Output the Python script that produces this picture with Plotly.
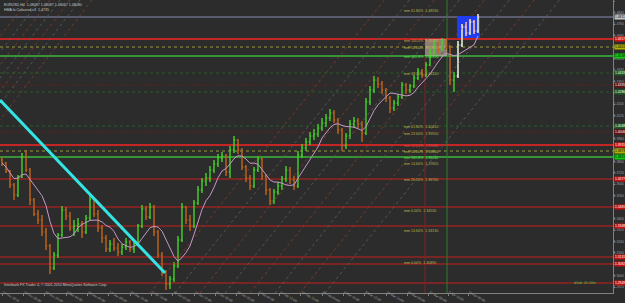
import plotly.graph_objects as go
import pandas as pd

# ---------------- data ----------------
bar_index = list(range(120))

open_ = [1.3810, 1.3789, 1.3733, 1.3635, 1.3565, 1.3691, 1.3831, 1.3740, 1.3530, 1.3432,
         1.3390, 1.3306, 1.3208, 1.3054, 1.3145, 1.3285, 1.3460, 1.3418, 1.3334, 1.3348,
         1.3362, 1.3306, 1.3404, 1.3537, 1.3432, 1.3334, 1.3264, 1.3187, 1.3222, 1.3194,
         1.3166, 1.3201, 1.3236, 1.3187, 1.3222, 1.3348, 1.3467, 1.3411, 1.3481, 1.3306,
         1.3145, 1.3026, 1.2942, 1.2977, 1.3068, 1.3250, 1.3481, 1.3390, 1.3348, 1.3509,
         1.3600, 1.3663, 1.3684, 1.3740, 1.3782, 1.3824, 1.3838, 1.3726, 1.3880, 1.3950,
         1.3880, 1.3761, 1.3684, 1.3628, 1.3740, 1.3817, 1.3698, 1.3600, 1.3523, 1.3586,
         1.3628, 1.3677, 1.3740, 1.3670, 1.3628, 1.3845, 1.3894, 1.3936, 1.3978, 1.3992,
         1.4034, 1.4069, 1.4104, 1.4139, 1.4090, 1.4020, 1.3908, 1.3978, 1.4062, 1.4083,
         1.4062, 1.3999, 1.4216, 1.4300, 1.4370, 1.4342, 1.4300, 1.4244, 1.4174, 1.4209,
         1.4251, 1.4335, 1.4300, 1.4328, 1.4384, 1.4433, 1.4405, 1.4475, 1.4559, 1.4622,
         1.4587, 1.4636, 1.4601, 1.4370, 1.4398, 1.4615, 1.4741, 1.4699, 1.4776, 1.4713]

high = [1.3831, 1.3796, 1.3740, 1.3649, 1.3705, 1.3859, 1.3880, 1.3754, 1.3544, 1.3460,
        1.3425, 1.3334, 1.3222, 1.3166, 1.3299, 1.3488, 1.3481, 1.3446, 1.3390, 1.3404,
        1.3383, 1.3425, 1.3558, 1.3544, 1.3460, 1.3355, 1.3285, 1.3250, 1.3264, 1.3229,
        1.3222, 1.3264, 1.3250, 1.3236, 1.3362, 1.3495, 1.3488, 1.3509, 1.3495, 1.3320,
        1.3166, 1.3040, 1.2998, 1.3096, 1.3278, 1.3509, 1.3488, 1.3425, 1.3530, 1.3628,
        1.3684, 1.3719, 1.3768, 1.3810, 1.3852, 1.3866, 1.3852, 1.3908, 1.3978, 1.3957,
        1.3894, 1.3775, 1.3705, 1.3761, 1.3838, 1.3824, 1.3712, 1.3614, 1.3607, 1.3656,
        1.3698, 1.3768, 1.3761, 1.3698, 1.3873, 1.3922, 1.3964, 1.4006, 1.4027, 1.4062,
        1.4104, 1.4132, 1.4167, 1.4160, 1.4104, 1.4034, 1.3999, 1.4090, 1.4111, 1.4104,
        1.4083, 1.4244, 1.4328, 1.4398, 1.4391, 1.4363, 1.4314, 1.4258, 1.4230, 1.4272,
        1.4356, 1.4349, 1.4342, 1.4405, 1.4454, 1.4447, 1.4496, 1.4587, 1.4650, 1.4643,
        1.4664, 1.4657, 1.4615, 1.4426, 1.4643, 1.4762, 1.4776, 1.4797, 1.4790, 1.4832]

low = [1.3768, 1.3719, 1.3614, 1.3530, 1.3551, 1.3684, 1.3726, 1.3495, 1.3418, 1.3362,
       1.3278, 1.3180, 1.3012, 1.3040, 1.3124, 1.3271, 1.3390, 1.3313, 1.3278, 1.3306,
       1.3264, 1.3292, 1.3390, 1.3411, 1.3306, 1.3229, 1.3166, 1.3166, 1.3173, 1.3138,
       1.3145, 1.3180, 1.3166, 1.3159, 1.3208, 1.3334, 1.3390, 1.3397, 1.3278, 1.3124,
       1.2998, 1.2900, 1.2907, 1.2956, 1.3054, 1.3236, 1.3362, 1.3313, 1.3334, 1.3495,
       1.3579, 1.3628, 1.3656, 1.3719, 1.3761, 1.3796, 1.3698, 1.3684, 1.3859, 1.3852,
       1.3740, 1.3656, 1.3600, 1.3614, 1.3726, 1.3670, 1.3565, 1.3495, 1.3502, 1.3565,
       1.3600, 1.3656, 1.3642, 1.3600, 1.3614, 1.3824, 1.3873, 1.3915, 1.3950, 1.3971,
       1.4013, 1.4041, 1.4083, 1.4069, 1.3992, 1.3873, 1.3887, 1.3957, 1.4034, 1.4034,
       1.3936, 1.3985, 1.4195, 1.4279, 1.4314, 1.4272, 1.4216, 1.4139, 1.4153, 1.4188,
       1.4237, 1.4272, 1.4279, 1.4314, 1.4370, 1.4384, 1.4391, 1.4468, 1.4545, 1.4559,
       1.4573, 1.4580, 1.4335, 1.4286, 1.4384, 1.4601, 1.4678, 1.4685, 1.4692, 1.4699]

close = [1.3789, 1.3733, 1.3635, 1.3565, 1.3691, 1.3831, 1.3740, 1.3530, 1.3432, 1.3390,
         1.3306, 1.3208, 1.3054, 1.3145, 1.3285, 1.3460, 1.3418, 1.3334, 1.3348, 1.3362,
         1.3306, 1.3404, 1.3537, 1.3432, 1.3334, 1.3264, 1.3187, 1.3222, 1.3194, 1.3166,
         1.3201, 1.3236, 1.3187, 1.3222, 1.3348, 1.3467, 1.3411, 1.3481, 1.3306, 1.3145,
         1.3026, 1.2942, 1.2977, 1.3068, 1.3250, 1.3481, 1.3390, 1.3348, 1.3509, 1.3600,
         1.3663, 1.3684, 1.3740, 1.3782, 1.3824, 1.3838, 1.3726, 1.3880, 1.3950, 1.3880,
         1.3761, 1.3684, 1.3628, 1.3740, 1.3817, 1.3698, 1.3600, 1.3523, 1.3586, 1.3628,
         1.3677, 1.3740, 1.3670, 1.3628, 1.3845, 1.3894, 1.3936, 1.3978, 1.3992, 1.4034,
         1.4069, 1.4104, 1.4139, 1.4090, 1.4020, 1.3908, 1.3978, 1.4062, 1.4083, 1.4062,
         1.3999, 1.4216, 1.4300, 1.4370, 1.4342, 1.4300, 1.4244, 1.4174, 1.4209, 1.4251,
         1.4335, 1.4300, 1.4328, 1.4384, 1.4433, 1.4405, 1.4475, 1.4559, 1.4622, 1.4587,
         1.4636, 1.4601, 1.4370, 1.4398, 1.4615, 1.4741, 1.4699, 1.4776, 1.4713, 1.4811]

x_tick_bars = [0, 5.3, 10.7, 16, 21.3, 26.7, 32, 37.3, 42.7, 48, 53.3, 58.7, 64,
               69.3, 74.7, 80, 85.3, 90.7, 96, 101.3, 106.7, 111.5, 116.5]
x_tick_labels = ["12 Nov 2010", "19 Nov 20:00", "26 Nov 20:00", "3 Dec 04:00", "10 Dec 04:00",
                 "17 Dec 08:00", "24 Dec 16:00", "3 Jan 16:00", "10 Jan 04:00", "14 Jan 12:00",
                 "21 Jan 20:00", "28 Jan 20:00", "4 Feb 04:00", "11 Feb 12:00", "18 Feb 16:00",
                 "25 Feb 04:00", "2 Mar 16:00", "9 Mar 12:00", "16 Mar 16:00", "24 Mar 00:00",
                 "31 Mar 08:00", "7 Apr 16:00", "15 Apr 00:00"]

# horizontal levels (price, kind)
level_prices = [1.4811, 1.4657, 1.4601, 1.4538, 1.4419, 1.4335, 1.4286, 1.4048, 1.4006,
                1.3915, 1.3873, 1.3831, 1.3677, 1.3481, 1.3348, 1.3131, 1.3082, 1.2949]
level_kinds = ["price", "red2", "yellow", "green", "dgreen", "dred", "dgreen", "dgreen", "dred",
               "red2", "yellow", "green", "red", "red", "red", "red", "red", "red"]

# level labels drawn on the chart
fib_bar = 100
fib_prices = [1.4853, 1.4643, 1.4594, 1.4531, 1.4412, 1.4041, 1.3992, 1.3908, 1.3866,
              1.3824, 1.3782, 1.3670, 1.3453, 1.3313, 1.3089]
fib_texts = ["mm 61.80%  1.48530", "mm 100.0%  1.46430", "mm 50.00%  1.45940", "mm 161.8%  1.45310",
             "mm 38.20%  1.44120", "mm 61.80%  1.40410", "mm 23.60%  1.39920", "mm 127.0%  1.39080",
             "mm 50.00%  1.38660", "mm 161.8%  1.38240", "mm 14.60%  1.37820", "mm 26.20%  1.36700",
             "mm 0.00%  1.34530", "mm 14.60%  1.33130", "mm 0.00%  1.30890"]
fib_kinds = ["yellow", "orange", "yellow", "green", "yellow", "yellow", "yellow", "red",
             "yellow", "green", "yellow", "yellow", "yellow", "yellow", "yellow"]

# trendline, fan lines, rectangles, vertical lines
trend_x = [-0.5, 40.75]
trend_y = [1.4230, 1.3019]
fan_upper_tops = [6.5, 9.5, 12, 14.5, 17, 19.5, 22.5]
fan_upper_run = 56.3
fan_lower_starts = [37, 43.25, 49.5, 55.75, 62, 68.25, 74.5, 80.75]
fan_lower_run = 58.6
price_top, price_bottom = 1.4930, 1.2879
rect_beige = (105.75, 111.25, 1.4538, 1.4657)
rect_blue = (113.75, 119.5, 1.4664, 1.4818)
vline_red = (105.75, 1.4538)
vline_green = 111.25

# ---------------- styles ----------------
line_style = {
    "price": ("#8a8ab4", 1, "solid", "#c8c8c8", "#000000"),
    "red2": ("#c42626", 2, "solid", "#d81010", "#ffffff"),
    "red": ("#962222", 1.3, "solid", "#c81010", "#ffffff"),
    "yellow": ("#9a9a3c", 1, "dot", "#b0b000", "#000000"),
    "green": ("#3cb43c", 1.5, "solid", "#10d010", "#000000"),
    "dgreen": ("#2a5a2a", 1, "dot", "#1e5a1e", "#ffffff"),
    "dred": ("#5a2222", 1, "dot", "#6a1010", "#ffffff"),
}
fib_colors = {"yellow": "#b8b84a", "orange": "#d89a50", "green": "#50e050", "red": "#e84848"}
TINY = 3.6
AXF = 3.3

fig = go.Figure()

def fan_trace(xs, ys, color):
    return go.Scatter(x=xs, y=ys, mode="lines", hoverinfo="skip",
                      line=dict(color=color, width=0.8, dash="dot"))

ox, oy, gx, gy = [], [], [], []
for k, xt in enumerate(fan_upper_tops):
    tx, ty = (ox, oy) if k % 2 == 0 else (gx, gy)
    tx += [xt, xt - fan_upper_run, None]
    ty += [price_top, price_bottom, None]
for k, xb in enumerate(fan_lower_starts):
    tx, ty = (ox, oy) if k % 2 == 0 else (gx, gy)
    tx += [xb, xb + fan_lower_run, None]
    ty += [price_bottom, price_top, None]
fig.add_trace(fan_trace(ox, oy, "#84402a"))
fig.add_trace(fan_trace(gx, gy, "#5e5e5e"))

for p, kd in zip(level_prices, level_kinds):
    c, w, d, _, _ = line_style[kd]
    fig.add_shape(type="line", xref="paper", x0=0, x1=1, yref="y", y0=p, y1=p,
                  line=dict(color=c, width=w, dash=d), layer="below")

fig.add_shape(type="rect", x0=rect_beige[0], x1=rect_beige[1], y0=rect_beige[2], y1=rect_beige[3],
              fillcolor="rgba(222,196,176,0.55)", line=dict(width=0), layer="below")
fig.add_shape(type="rect", x0=rect_blue[0], x1=rect_blue[1], y0=rect_blue[2], y1=rect_blue[3],
              fillcolor="#1f3cf0", line=dict(width=0), layer="below")

fig.add_shape(type="line", x0=vline_red[0], x1=vline_red[0], y0=price_bottom, y1=vline_red[1],
              line=dict(color="#7a2424", width=1), layer="below")
fig.add_shape(type="line", x0=vline_green, x1=vline_green, yref="paper", y0=0, y1=1,
              line=dict(color="#2e7a2e", width=1), layer="below")

fig.add_trace(go.Ohlc(x=bar_index, open=open_, high=high, low=low, close=close,
                      increasing=dict(line=dict(color="#46d22a", width=1.4)),
                      decreasing=dict(line=dict(color="#c0641c", width=1.4)),
                      tickwidth=0.3, hoverinfo="skip"))
blue_from = 114
fig.add_trace(go.Ohlc(x=bar_index[blue_from:], open=open_[blue_from:], high=high[blue_from:],
                      low=low[blue_from:], close=close[blue_from:],
                      increasing=dict(line=dict(color="#f4d4f4", width=1.4)),
                      decreasing=dict(line=dict(color="#f0c0e8", width=1.4)),
                      tickwidth=0.3, hoverinfo="skip"))

ma = pd.Series(close).rolling(7, min_periods=1).mean()
fig.add_trace(go.Scatter(x=bar_index, y=ma, mode="lines", hoverinfo="skip",
                         line=dict(color="#c896c8", width=1)))

fig.add_trace(go.Scatter(x=trend_x, y=trend_y, mode="lines", hoverinfo="skip",
                         line=dict(color="#34e4e4", width=3)))

ann = []
for p, t, kd in zip(fib_prices, fib_texts, fib_kinds):
    ann.append(dict(x=fib_bar, y=p, xref="x", yref="y", text=t, showarrow=False,
                    xanchor="left", yanchor="middle",
                    font=dict(size=TINY, color=fib_colors[kd])))
for p, kd in zip(level_prices, level_kinds):
    _, _, _, bg, fc = line_style[kd]
    ann.append(dict(x=1.001, y=p, xref="paper", yref="y", text=f"{p:.4f}", showarrow=False,
                    xanchor="left", yanchor="middle", bgcolor=bg, borderpad=0,
                    font=dict(size=AXF, color=fc)))
ann.append(dict(x=0.004, y=0.995, xref="paper", yref="paper", showarrow=False,
                xanchor="left", yanchor="top", align="left",
                text="EURUSD,H4  1.48087 1.48087 1.48067 1.48080<br>HMA lo Coloured v3  1.4735",
                font=dict(size=TINY, color="#c8c8c8")))
ann.append(dict(x=0.004, y=0.012, xref="paper", yref="paper", showarrow=False,
                xanchor="left", yanchor="bottom",
                text="Interbank FX Trader 4, \u00a9 2001-2010 MetaQuotes Software Corp.",
                font=dict(size=TINY, color="#c8c8c8")))
ann.append(dict(x=0.975, y=0.02, xref="paper", yref="paper", showarrow=False,
                xanchor="right", yanchor="bottom", text="d/tab: 0h 00m",
                font=dict(size=TINY, color="#40c040")))

fig.update_layout(
    width=625, height=303,
    margin=dict(l=0, r=12, t=0, b=10, pad=0),
    paper_bgcolor="#2c2c2c", plot_bgcolor="#2c2c2c",
    showlegend=False,
    font=dict(family="Liberation Sans", size=TINY, color="#a0a0a0"),
    annotations=ann,
    xaxis=dict(range=[-0.5, 152.75], rangeslider=dict(visible=False), showgrid=False,
               zeroline=False, showline=True, linecolor="#808080", linewidth=1,
               tickmode="array", tickvals=x_tick_bars, ticktext=x_tick_labels,
               ticks="outside", ticklen=2, tickcolor="#808080",
               ticklabelposition="outside right", ticklabelstandoff=-5, automargin=False,
               tickfont=dict(size=AXF, color="#a8a8a8")),
    yaxis=dict(range=[price_bottom, price_top], side="right", showgrid=False, zeroline=False,
               showline=True, linecolor="#808080", linewidth=1,
               tick0=1.2840, dtick=0.0080, tickformat=".4f",
               ticks="outside", ticklen=1, tickcolor="#808080", automargin=False,
               ticklabelstandoff=-2,
               tickfont=dict(size=AXF, color="#a0a0a0")),
)

fig.write_html("out.html", config={"displayModeBar": False})
